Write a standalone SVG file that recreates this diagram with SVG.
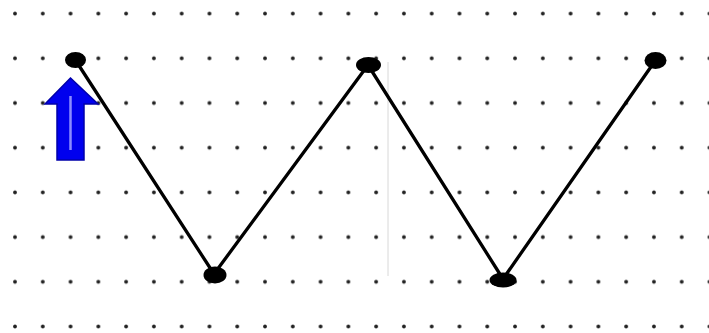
<svg xmlns="http://www.w3.org/2000/svg" width="709" height="333" viewBox="0 0 709 333">
<defs>
<pattern id="dots" patternUnits="userSpaceOnUse" x="1.11" y="-8.75" width="27.78" height="44.7">
<circle cx="13.89" cy="22.35" r="1.9" fill="#222"/>
</pattern>
<style>
.edge{fill:none;stroke:#000;stroke-width:3.3;stroke-linecap:round;stroke-linejoin:round}
.node{fill:#000}
</style>
</defs>
<rect width="709" height="333" fill="#fff"/>
<rect width="709" height="333" fill="url(#dots)"/>
<line x1="388" y1="62" x2="388" y2="276" stroke="#d8d8d8" stroke-width="1"/>
<g id="connectors">
<polyline class="edge" points="76,61 214,274 368,65 503,279 655,61"/>
</g>
<g id="n1"><ellipse class="node" cx="75.5" cy="60" rx="10.5" ry="8"/></g>
<g id="n2"><ellipse class="node" cx="215" cy="275" rx="11.5" ry="8.5"/></g>
<g id="n3"><ellipse class="node" cx="368.5" cy="65" rx="12.5" ry="8"/></g>
<g id="n4"><ellipse class="node" cx="503" cy="280" rx="13.5" ry="7.5"/></g>
<g id="n5"><ellipse class="node" cx="655.5" cy="60.5" rx="11" ry="8.5"/></g>
<g id="arrow">
<polygon points="70.5,78 45,104 57,104 57,160 84,160 84,104 98,104" fill="#0000ee" stroke="#0000aa" stroke-width="1.5" stroke-linejoin="miter"/>
<line x1="70.5" y1="96" x2="70.5" y2="150" stroke="#8c8cff" stroke-width="2.5"/>
</g>
</svg>
